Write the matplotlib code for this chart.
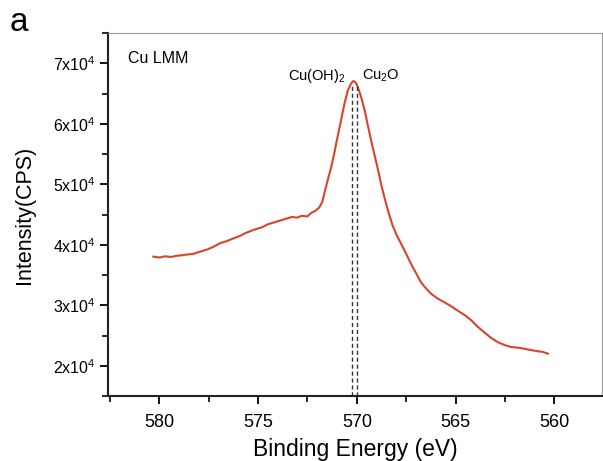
import numpy as np
import matplotlib
matplotlib.use('Agg')
import matplotlib.pyplot as plt
from matplotlib.ticker import MultipleLocator, FuncFormatter

plt.rcParams['font.family'] = ['Liberation Sans', 'DejaVu Sans']
plt.rcParams['mathtext.fontset'] = 'custom'
plt.rcParams['mathtext.rm'] = 'Liberation Sans'
plt.rcParams['mathtext.default'] = 'regular'

# binding energy (eV) and intensity (CPS)
energy = [580.3, 580.0, 579.7, 579.4, 579.1, 578.9, 578.6, 578.3, 577.9, 577.6,
          577.3, 576.9, 576.6, 576.3, 575.9, 575.6, 575.2, 574.8, 574.5, 574.2,
          573.8, 573.5, 573.3, 573.0, 572.8, 572.5, 572.3, 572.1, 571.9, 571.75,
          571.6, 571.45, 571.3, 571.15, 571.05, 570.9, 570.8, 570.63, 570.46, 570.29,
          570.17, 570.05, 569.95, 569.78, 569.6, 569.48, 569.28, 569.1, 568.9, 568.77,
          568.6, 568.4, 568.2, 568.0, 567.76, 567.5, 567.25, 567.0, 566.75, 566.5,
          566.24, 565.9, 565.57, 565.2, 564.89, 564.5, 564.2, 563.9, 563.54, 563.2,
          562.86, 562.5, 562.19, 561.85, 561.5, 561.2, 560.84, 560.6, 560.33]
intensity = [38050, 37900, 38100, 38000, 38200, 38250, 38400, 38500, 38900, 39200,
             39600, 40300, 40600, 41000, 41500, 42000, 42500, 42900, 43400, 43700,
             44100, 44400, 44600, 44500, 44800, 44700, 45300, 45600, 46200, 47100,
             49100, 51000, 52800, 55000, 56700, 59000, 60600, 63300, 65500, 66700,
             67100, 66800, 66100, 64400, 62200, 60300, 57300, 54800, 52000, 50000,
             47800, 45400, 43300, 41700, 40200, 38500, 36800, 35300, 33800, 32800,
             31900, 31100, 30500, 29800, 29100, 28300, 27500, 26500, 25500, 24600,
             23900, 23400, 23100, 23000, 22800, 22600, 22400, 22300, 22000]

peak_energies = [570.25, 570.0]
peak_tops = [66600, 66400]
x_ticks = [580, 575, 570, 565, 560]
y_ticks = [20000, 30000, 40000, 50000, 60000, 70000]


def sci_label(v, pos):
    return r'%dx10$^{4}$' % round(v / 1e4)


fig = plt.figure(figsize=(6.03, 4.61), dpi=100)
ax = fig.add_axes([0.179, 0.141, 0.819, 0.787])

ax.plot(energy, intensity, color='#d8432a', lw=1.5)
for e, top in zip(peak_energies, peak_tops):
    ax.plot([e, e], [15000, top], color='#333333', lw=1.0, ls=(0, (3, 2)))

ax.set_xlim(582.6, 557.6)
ax.set_ylim(15000, 75000)
ax.set_xticks(x_ticks)
ax.set_yticks(y_ticks)
ax.xaxis.set_minor_locator(MultipleLocator(2.5))
ax.yaxis.set_minor_locator(MultipleLocator(5000))
ax.yaxis.set_major_formatter(FuncFormatter(sci_label))

ax.tick_params(axis='x', which='major', direction='out', length=6, width=1.3, labelsize=13, pad=7)
ax.tick_params(axis='y', which='major', direction='out', length=6, width=1.3, labelsize=11.5, pad=3)
ax.tick_params(which='minor', direction='out', length=4, width=1.2)

for side in ['left', 'bottom']:
    ax.spines[side].set_linewidth(1.5)
    ax.spines[side].set_color('#222222')
for side in ['top', 'right']:
    ax.spines[side].set_linewidth(0.8)
    ax.spines[side].set_color('#999999')

ax.set_xlabel('Binding Energy (eV)', fontsize=16.5, labelpad=5)
ax.set_ylabel('Intensity(CPS)', fontsize=15.5, labelpad=13)

ax.text(0.040, 0.931, 'Cu LMM', transform=ax.transAxes, fontsize=11.5,
        va='center', ha='left')
ax.text(570.55, 68000, r'Cu(OH)$_2$', fontsize=10.5, ha='right', va='center')
ax.text(569.75, 68000, r'Cu$_2$O', fontsize=10.5, ha='left', va='center')
fig.text(0.016, 0.952, 'a', fontsize=24, va='center', ha='left')

fig.savefig('out.png', dpi=100)
